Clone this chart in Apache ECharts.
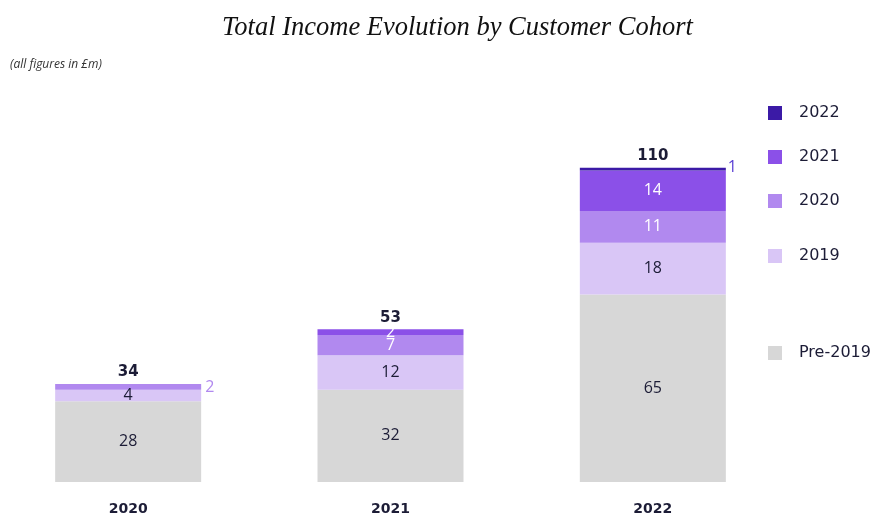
<!DOCTYPE html>
<html>
<head>
<meta charset="utf-8">
<script src="https://cdn.jsdelivr.net/npm/echarts@6/dist/echarts.min.js"></script>
<style>
  html, body { margin: 0; padding: 0; background: #fff; }
  #chart { width: 879px; height: 514px; }
</style>
</head>
<body>
<div id="chart"></div>
<script>
// values in £m
const years = ['2020', '2021', '2022']
const pre2019 = [28, 32, 65]
const c2019 = [4, 12, 18]
const c2020 = [2, 7, 11]
const c2021 = [null, 2, 14]
const c2022 = [null, null, 1]
const totalLabels = ['34', '53', '110']

const cohortNames = ['Pre-2019', '2019', '2020', '2021', '2022']
const cohortColors = ['#d7d7d7', '#d9c6f6', '#b189ef', '#8b50e8', '#3b1aa6']
const legendTops = [340, 243, 188, 144, 100]

const dark = '#1c1c36'
const labelFont = '"Open Sans", "Noto Sans", sans-serif'
const wideFont = '"DejaVu Sans", "Open Sans", sans-serif'

const chart = echarts.init(document.getElementById('chart'))

const seriesData = [pre2019, c2019, c2020, c2021, c2022]
const totals = years.map((_, i) => seriesData.reduce((s, arr) => s + (arr[i] || 0), 0))

// per-segment label tweaks (small slices shown outside the bar)
const labelOverride = {
  '2020-0': { position: 'right', color: '#b189ef', distance: 4, offset: [0, 1] },
  '2022-2': { position: 'right', color: '#5a3fd4', distance: 2, offset: [0, -2] }
}

const barSeries = cohortNames.map((name, k) => ({
  name,
  type: 'bar',
  stack: 'total',
  barWidth: 146,
  itemStyle: { color: cohortColors[k] },
  label: {
    show: true,
    position: 'inside',
    fontFamily: labelFont,
    fontSize: 16,
    color: k >= 2 ? '#ffffff' : dark
  },
  data: seriesData[k].map((v, i) => {
    const o = labelOverride[name + '-' + i]
    return o ? { value: v, label: o } : v
  })
}))

const option = {
  animation: false,
  title: [
    {
      text: 'Total Income Evolution by Customer Cohort',
      left: 222,
      top: 15,
      padding: 0,
      textStyle: {
        fontFamily: '"Liberation Serif", "Times New Roman", serif',
        fontStyle: 'italic',
        fontWeight: 'normal',
        fontSize: 26.5,
        color: '#111'
      }
    },
    {
      text: '(all figures in £m)',
      left: 10,
      top: 59,
      padding: 0,
      textStyle: {
        fontFamily: labelFont,
        fontStyle: 'italic',
        fontWeight: 'normal',
        fontSize: 12,
        color: '#333'
      }
    }
  ],
  legend: cohortNames.map((name, k) => ({
    data: [name],
    orient: 'vertical',
    left: 763,
    top: legendTops[k],
    icon: 'rect',
    itemWidth: 14,
    itemHeight: 14,
    selectedMode: false,
    textStyle: {
      fontFamily: wideFont,
      fontSize: 16,
      color: dark,
      padding: [0, 0, 0, 12]
    }
  })),
  grid: { left: -3, width: 787, top: 136, bottom: 32, outerBoundsMode: 'none' },
  xAxis: {
    type: 'category',
    data: years,
    axisLine: { show: false },
    axisTick: { show: false },
    axisLabel: {
      margin: 20,
      fontFamily: wideFont,
      fontWeight: 'bold',
      fontSize: 14,
      color: dark
    }
  },
  yAxis: {
    type: 'value',
    min: 0,
    max: 120,
    show: false,
    splitLine: { show: false }
  },
  series: [
    ...barSeries,
    {
      type: 'scatter',
      symbolSize: 0,
      silent: true,
      itemStyle: { opacity: 1 },
      data: totals,
      label: {
        show: true,
        position: 'top',
        distance: 4,
        fontFamily: wideFont,
        fontWeight: 'bold',
        fontSize: 15,
        color: dark,
        opacity: 1,
        formatter: p => totalLabels[p.dataIndex]
      }
    }
  ]
}

chart.setOption(option)
</script>
</body>
</html>
